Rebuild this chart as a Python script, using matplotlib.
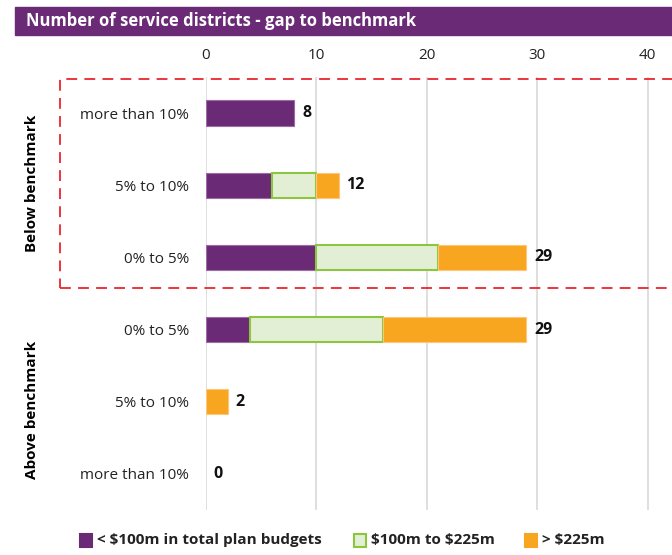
import numpy as np
import matplotlib.pyplot as plt
from matplotlib.patches import Rectangle

plt.rcParams['font.family'] = ['Open Sans', 'DejaVu Sans']
plt.rcParams['text.parse_math'] = False

rows = ["more than 10%", "5% to 10%", "0% to 5%", "0% to 5%", "5% to 10%", "more than 10%"]
under_100m = [8, 6, 10, 4, 0, 0]
mid_100_225m = [0, 4, 11, 12, 0, 0]
over_225m = [0, 2, 8, 13, 2, 0]
groups = ["Below benchmark", "Above benchmark"]
series_names = ["< $100m in total plan budgets", "$100m to $225m", "> $225m"]

purple = "#6B2A75"
green_fill = "#E2EFD4"
green_edge = "#8CC63F"
orange = "#F8A51F"

fig = plt.figure(figsize=(6.72, 5.55), dpi=100)
ax = fig.add_axes([206 / 672, 45 / 555, 466 / 672, 433 / 555])

y = np.arange(len(rows))
a = np.array(under_100m)
b = np.array(mid_100_225m)
c = np.array(over_225m)
h = 0.35
styles = [(purple, "#9B6BA3", 0.8), (green_fill, green_edge, 1.5), (orange, "#FBC77A", 0.8)]
left = np.zeros(len(rows))
for vals, (fc, ec, lw) in zip([a, b, c], styles):
    m = vals > 0
    ax.barh(y[m], vals[m], left=left[m], height=h, color=fc, edgecolor=ec, linewidth=lw)
    left = left + vals

totals = a + b + c
for yi, t in zip(y, totals):
    ax.text(t + 0.7, yi, str(t), va="center", ha="left", fontsize=11.5, fontweight="bold", color="#111111")

ax.set_xlim(0, 42.2)
ax.set_ylim(len(rows) - 0.5, -0.5)
ax.set_yticks(y)
ax.set_yticklabels(rows, fontsize=11, color="#222222")
ax.set_xticks([0, 10, 20, 30, 40])
ax.xaxis.tick_top()
ax.tick_params(axis="x", length=0, labelsize=11, labelcolor="#222222", pad=10)
ax.tick_params(axis="y", length=0, pad=12)
ax.grid(axis="x", color="#D9D9D9", linewidth=1.2)
ax.set_axisbelow(True)
for s in ax.spines.values():
    s.set_visible(False)

# title banner
fig.patches.append(Rectangle((15 / 672, 1 - 35 / 555), 1, 28 / 555, transform=fig.transFigure,
                             color=purple, zorder=0))
fig.text(26 / 672, 1 - 21 / 555, "Number of service districts - gap to benchmark", color="white",
         fontsize=12, fontweight="bold", va="center", ha="left")

# group labels
fig.text(32 / 672, 1 - 183 / 555, groups[0], rotation=90, fontsize=11, fontweight="bold",
         va="center", ha="center")
fig.text(32 / 672, 1 - 410 / 555, groups[1], rotation=90, fontsize=11, fontweight="bold",
         va="center", ha="center")

# dashed highlight box around the below-benchmark rows
fig.patches.append(Rectangle((60 / 672, 1 - 288 / 555), 640 / 672, 209 / 555, transform=fig.transFigure,
                             fill=False, edgecolor="#E8262D", linewidth=1.3, linestyle=(0, (6, 4)),
                             zorder=5))

# legend
leg_x = [80, 354, 525]
leg_colors = [(purple, purple), (green_fill, green_edge), (orange, orange)]
for lx, (fc, ec), name in zip(leg_x, leg_colors, series_names):
    fig.patches.append(Rectangle((lx / 672, 1 - 547 / 555), 12 / 672, 13 / 555, transform=fig.transFigure,
                                 facecolor=fc, edgecolor=ec, linewidth=1.5))
    fig.text((lx + 17) / 672, 1 - 540 / 555, name, fontsize=11, fontweight="bold",
             va="center", ha="left", color="#222222")

fig.savefig("out.png", dpi=100)
